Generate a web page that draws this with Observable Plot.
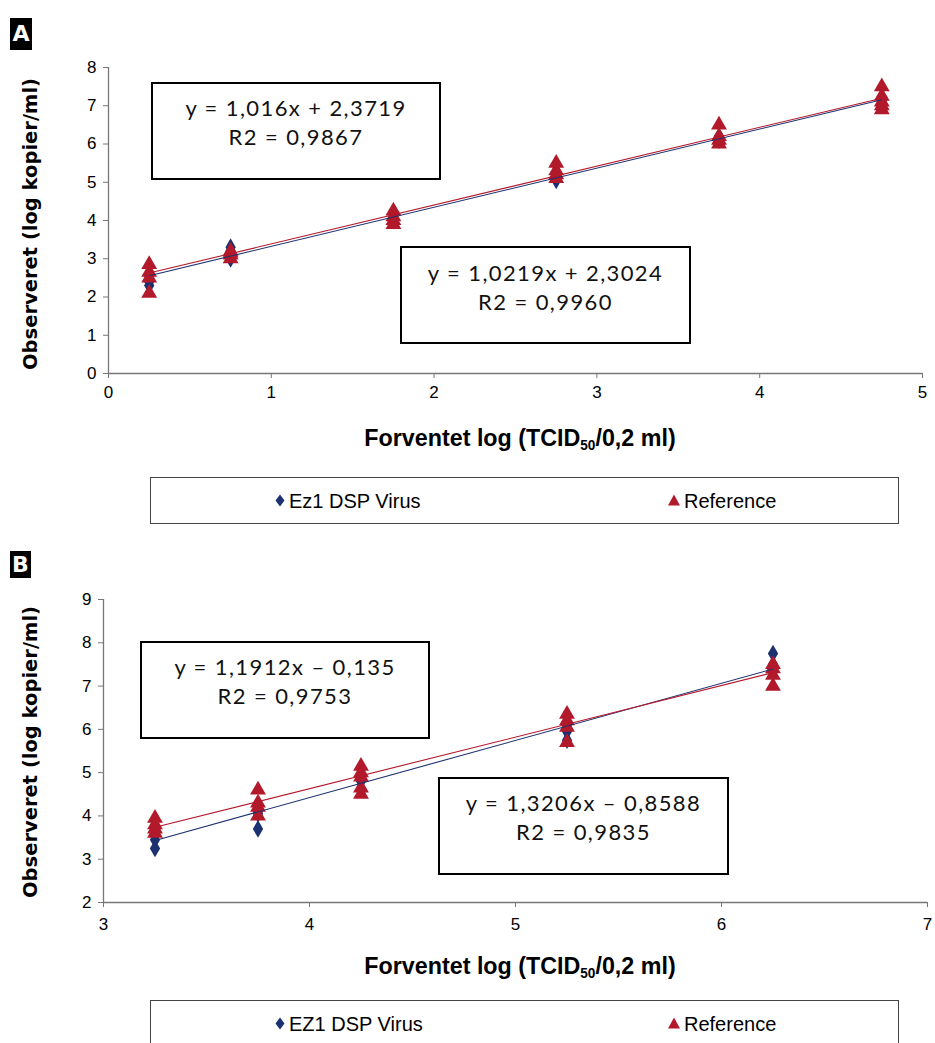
<!DOCTYPE html>
<html>
<head>
<meta charset="utf-8">
<script src="https://cdn.jsdelivr.net/npm/d3@7"></script>
<script src="https://cdn.jsdelivr.net/npm/@observablehq/plot@0.6"></script>
<style>
  html, body { margin: 0; padding: 0; background: #fff; }
  #page { position: relative; width: 935px; height: 1043px; overflow: hidden; background: #fff; }
  .abs { position: absolute; }
  .panel-label { background: #000; color: #fff; font-family: "DejaVu Sans", sans-serif; font-weight: bold;
                 font-size: 22px; line-height: 1; display: flex; align-items: center; justify-content: center; }
  .eqbox { border: 2px solid #000; box-sizing: border-box; background: #fff; font-family: "Lato", "Noto Sans", sans-serif;
           font-size: 22px; text-align: center; line-height: 29px; color: #111; letter-spacing: 1.4px; }
  .xtitle { font-family: "Liberation Sans Narrow", "Arial Narrow", "Liberation Sans", sans-serif; font-weight: bold;
            font-size: 24px; color: #000; white-space: nowrap; transform: translateX(-50%) scaleX(0.97); }
  .xtitle sub { font-size: 14px; vertical-align: -4px; }
  .ytitle { font-family: "DejaVu Sans", sans-serif; font-weight: bold; font-size: 19.5px; color: #000; white-space: nowrap;
            transform: translate(-50%, -50%) rotate(-90deg); }
  .legend { border: 1px solid #444; box-sizing: border-box; background: #fff; font-family: "Liberation Sans Narrow", "Arial Narrow", "Liberation Sans", sans-serif;
            font-size: 20px; color: #000; }
  .legitem { position: absolute; top: 50%; transform: translateY(-50%); white-space: nowrap; display: flex; align-items: center; }
  .legitem svg { margin-right: 3px; }
</style>
</head>
<body>
<div id="page"></div>
<script>
// ---------------- data ----------------
const seriesNamesA = ["Ez1 DSP Virus", "Reference"];
const seriesNamesB = ["EZ1 DSP Virus", "Reference"];
const seriesColors = ["#1c3170", "#b2192b"];

// Panel A: expected log (x) and observed values (y)
const levelsA = [0.25, 0.75, 1.75, 2.75, 3.75, 4.75];
const ez1A = [[2.3, 2.4, 2.55, 2.6], [3.0, 3.1, 3.2, 3.3], [4.0, 4.1, 4.15], [5.05, 5.1, 5.15], [6.1, 6.15, 6.2], [7.05, 7.1, 7.15]];
const refA = [[2.1, 2.5, 2.65, 2.85], [3.0, 3.1, 3.15, 3.2], [3.9, 4.0, 4.1, 4.25], [5.1, 5.2, 5.3, 5.5], [6.0, 6.1, 6.2, 6.5], [6.9, 7.0, 7.1, 7.25, 7.5]];
const slopesA = [1.0219, 1.016];       // [Ez1, Reference]
const interceptsA = [2.3024, 2.3719];
const eqRefA = ["y = 1,016x + 2,3719", "R2 = 0,9867"];
const eqEz1A = ["y = 1,0219x + 2,3024", "R2 = 0,9960"];
const xTicksA = [0, 1, 2, 3, 4, 5];
const yTicksA = [0, 1, 2, 3, 4, 5, 6, 7, 8];

// Panel B
const levelsB = [3.25, 3.75, 4.25, 5.25, 6.25];
const ez1B = [[3.25, 3.45, 3.6], [3.7, 4.05, 4.1], [4.8, 4.85, 4.95], [5.75, 5.95, 6.1], [7.45, 7.5, 7.75]];
const refB = [[3.6, 3.7, 3.8, 3.95], [4.0, 4.2, 4.3, 4.6], [4.5, 4.65, 4.9, 5.0, 5.15], [5.7, 6.05, 6.2, 6.35], [7.0, 7.25, 7.4, 7.5]];
const slopesB = [1.3206, 1.1912];
const interceptsB = [-0.8588, -0.135];
const eqRefB = ["y = 1,1912x – 0,135", "R2 = 0,9753"];
const eqEz1B = ["y = 1,3206x – 0,8588", "R2 = 0,9835"];
const xTicksB = [3, 4, 5, 6, 7];
const yTicksB = [2, 3, 4, 5, 6, 7, 8, 9];

const xTitle = ["Forventet log (TCID", "50", "/0,2 ml)"];
const yTitle = "Observeret (log kopier/ml)";

// ---------------- helpers ----------------
function flatten(levels, groups, series) {
  const out = [];
  levels.forEach((x, i) => groups[i].forEach(y => out.push({x, y, series})));
  return out;
}
function fitLines(levels, slopes, intercepts) {
  const x0 = d3.min(levels), x1 = d3.max(levels);
  return slopes.map((m, i) => ({x1: x0, y1: m * x0 + intercepts[i], x2: x1, y2: m * x1 + intercepts[i], s: i}));
}

const page = document.getElementById("page");
function add(html, cls, style) {
  const d = document.createElement("div");
  d.className = "abs " + cls;
  Object.assign(d.style, style);
  d.innerHTML = html;
  page.appendChild(d);
  return d;
}

function panel({top, height, mt, mb, ml, mr, xDomain, yDomain, xTicks, yTicks, xPad, levels, ez1, ref, slopes, intercepts}) {
  const ezData = flatten(levels, ez1, 0);
  const refData = flatten(levels, ref, 1);
  const lines = fitLines(levels, slopes, intercepts);
  const fmt = d => String(d);
  const chart = Plot.plot({
    width: 935, height,
    marginTop: mt, marginBottom: mb, marginLeft: ml, marginRight: mr,
    x: {domain: xDomain, ticks: xTicks},
    y: {domain: yDomain, ticks: yTicks},
    style: {fontFamily: "'Liberation Sans', Arial, sans-serif", fontSize: "17px", color: "#000", background: "transparent", overflow: "visible"},
    marks: [
      Plot.ruleX([xDomain[0]], {stroke: "#777", strokeWidth: 1.3}),
      Plot.ruleY([yDomain[0]], {stroke: "#777", strokeWidth: 1.3}),
      Plot.axisX({ticks: xTicks, tickFormat: fmt, tickSize: 5, tickPadding: xPad, stroke: "#777", label: null, fontSize: 17}),
      Plot.axisY({ticks: yTicks, tickFormat: fmt, tickSize: 5, tickPadding: 7, stroke: "#777", label: null, fontSize: 17}),
      Plot.dot(ezData, {x: "x", y: "y", symbol: "diamond", r: 5.4, fill: seriesColors[0], stroke: "none"}),
      Plot.dot(refData, {x: "x", y: "y", symbol: "triangle", r: 5.9, fill: seriesColors[1], stroke: "none"}),
      Plot.link(lines, {x1: "x1", y1: "y1", x2: "x2", y2: "y2", stroke: d => seriesColors[d.s], strokeWidth: 1.1})
    ]
  });
  chart.style.position = "absolute";
  chart.style.left = "0px";
  chart.style.top = top + "px";
  page.appendChild(chart);
}

function legend(top, names) {
  const box = add("", "legend", {left: "150px", top: top + "px", width: "749px", height: "47px"});
  const dia = `<svg width="12" height="14" viewBox="-6 -7 12 14"><path d="M0,-6L4.5,0L0,6L-4.5,0Z" fill="${seriesColors[0]}"/></svg>`;
  const tri = `<svg width="14" height="14" viewBox="-7 -7 14 14"><path d="M0,-6L6,5L-6,5Z" fill="${seriesColors[1]}"/></svg>`;
  const a = document.createElement("div"); a.className = "legitem"; a.style.left = "123px"; a.innerHTML = dia + names[0]; box.appendChild(a);
  const b = document.createElement("div"); b.className = "legitem"; b.style.left = "516px"; b.innerHTML = tri + names[1]; box.appendChild(b);
}

// ---------------- panel A ----------------
add("A", "panel-label", {left: "10px", top: "18px", width: "22px", height: "32px"});
panel({top: 0, height: 420, mt: 67, mb: 47, ml: 108, mr: 13, xDomain: [0, 5], yDomain: [0, 8], xPad: 7,
       xTicks: xTicksA, yTicks: yTicksA, levels: levelsA, ez1: ez1A, ref: refA, slopes: slopesA, intercepts: interceptsA});
add(eqRefA.join("<br>"), "eqbox", {left: "151px", top: "82px", width: "290px", height: "98px", paddingTop: "9px"});
add(eqEz1A.join("<br>"), "eqbox", {left: "400px", top: "246px", width: "291px", height: "98px", paddingTop: "10px"});
add(`${xTitle[0]}<sub>${xTitle[1]}</sub>${xTitle[2]}`, "xtitle", {left: "520px", top: "424px"});
add(yTitle, "ytitle", {left: "30px", top: "224px"});
legend(477, seriesNamesA);

// ---------------- panel B ----------------
add("B", "panel-label", {left: "10px", top: "551px", width: "21px", height: "27px"});
panel({top: 560, height: 380, mt: 39, mb: 38, ml: 103, mr: 8, xDomain: [3, 7], yDomain: [2, 9], xPad: 10,
       xTicks: xTicksB, yTicks: yTicksB, levels: levelsB, ez1: ez1B, ref: refB, slopes: slopesB, intercepts: interceptsB});
add(eqRefB.join("<br>"), "eqbox", {left: "140px", top: "641px", width: "290px", height: "98px", paddingTop: "9px"});
add(eqEz1B.join("<br>"), "eqbox", {left: "438px", top: "777px", width: "291px", height: "98px", paddingTop: "9px"});
add(`${xTitle[0]}<sub>${xTitle[1]}</sub>${xTitle[2]}`, "xtitle", {left: "520px", top: "952px"});
add(yTitle, "ytitle", {left: "30px", top: "752px"});
legend(1000, seriesNamesB);
</script>
</body>
</html>
